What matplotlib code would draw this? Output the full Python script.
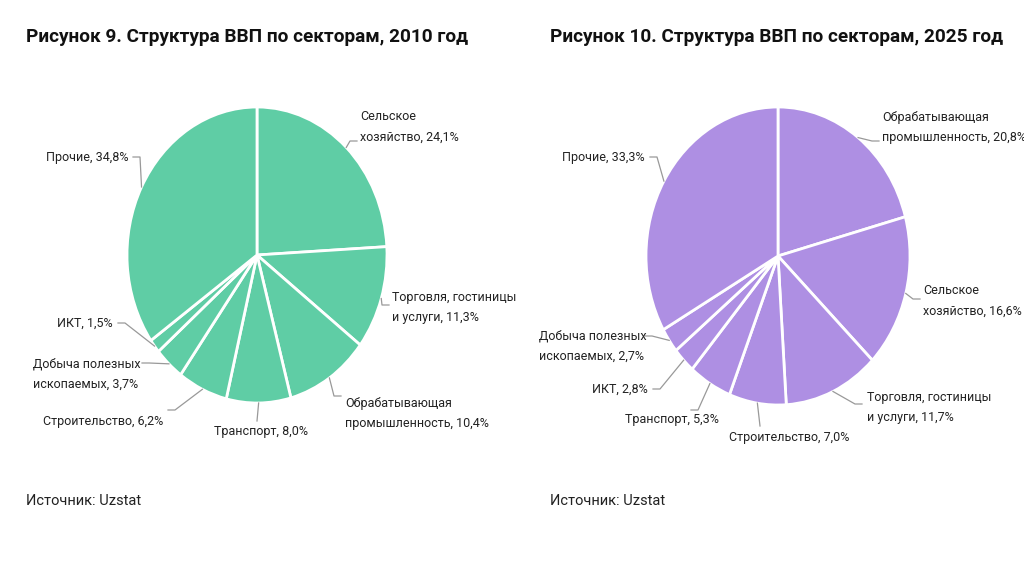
import numpy as np
import matplotlib
matplotlib.use("Agg")
import matplotlib.pyplot as plt

plt.rcParams['font.family'] = ['Roboto', 'DejaVu Sans']

# data, clockwise from 12 o'clock
labels_2010 = ['Сельское\nхозяйство, 24,1%', 'Торговля, гостиницы\nи услуги, 11,3%',
               'Обрабатывающая\nпромышленность, 10,4%', 'Транспорт, 8,0%',
               'Строительство, 6,2%', 'Добыча полезных\nископаемых, 3,7%',
               'ИКТ, 1,5%', 'Прочие, 34,8%']
values_2010 = [24.1, 11.3, 10.4, 8.0, 6.2, 3.7, 1.5, 34.8]

labels_2025 = ['Обрабатывающая\nпромышленность, 20,8%', 'Сельское\nхозяйство, 16,6%',
               'Торговля, гостиницы\nи услуги, 11,7%', 'Строительство, 7,0%',
               'Транспорт, 5,3%', 'ИКТ, 2,8%', 'Добыча полезных\nископаемых, 2,7%',
               'Прочие, 33,3%']
values_2025 = [20.8, 16.6, 11.7, 7.0, 5.3, 2.8, 2.7, 33.3]

title_2010 = 'Рисунок 9. Структура ВВП по секторам, 2010 год'
title_2025 = 'Рисунок 10. Структура ВВП по секторам, 2025 год'
source = 'Источник: Uzstat'

# layout in pixels: text x, text y, ha, leader end x, y
layout_2010 = [(360, 127, 'left', 357, 141), (392, 308, 'left', 389, 305),
               (345, 414, 'left', 341, 396), (261, 432, 'center', 257, 421),
               (163, 421, 'right', 168, 410), (33, 374, 'left', 142, 363),
               (113, 323, 'right', 118, 323), (128, 157, 'right', 133, 157)]
layout_2025 = [(882, 127, 'left', 879, 141), (923, 301, 'left', 920, 299),
               (867, 408, 'left', 862, 404), (789, 438, 'center', 760, 426),
               (719, 420, 'right', 691, 410), (648, 389, 'right', 653, 389),
               (539, 346, 'left', 645, 336), (645, 157, 'right', 650, 157)]

W, H = 1024, 570
fig = plt.figure(figsize=(W / 100, H / 100), dpi=100)
fig.patch.set_facecolor('white')


def draw_pie(values, labels, layout, color, cx, cy, a, b):
    ax = fig.add_axes([(cx - a) / W, 1 - (cy + b) / H, 2 * a / W, 2 * b / H])
    wedges, _ = ax.pie(values, colors=[color] * len(values), startangle=90,
                       counterclock=False,
                       wedgeprops=dict(edgecolor='white', linewidth=2))
    ax.set_aspect('auto')
    ax.set_xlim(-1, 1)
    ax.set_ylim(-1, 1)
    for w, lab, (tx, ty, ha, ex, ey) in zip(wedges, labels, layout):
        mid = np.deg2rad((w.theta1 + w.theta2) / 2)
        x0, y0 = np.cos(mid), np.sin(mid)
        x1, y1 = (ex - cx) / a, (cy - ey) / b
        if ha == 'center':
            xs, ys = [x0, x1], [y0, y1]
        else:
            step = 7 / a if x1 < x0 else -7 / a
            xs, ys = [x0, x1 + step, x1], [y0, y1, y1]
        ax.plot(xs, ys, color='#999999', lw=0.9, clip_on=False)
        ax.text((tx - cx) / a, (cy - ty) / b, lab, ha=ha, va='center',
                multialignment='left', fontsize=9.0, color='#222222',
                linespacing=1.7, clip_on=False)
    return ax


draw_pie(values_2010, labels_2010, layout_2010, '#5FCDA5', 257, 255, 130, 148)
draw_pie(values_2025, labels_2025, layout_2025, '#AE8FE3', 778, 256, 132, 149)

fig.text(26 / W, 1 - 37 / H, title_2010, ha='left', va='center',
         fontsize=13.7, fontweight='bold', color='#111111')
fig.text(550 / W, 1 - 37 / H, title_2025, ha='left', va='center',
         fontsize=13.7, fontweight='bold', color='#111111')
fig.text(26 / W, 1 - 501 / H, source, ha='left', va='center',
         fontsize=10.5, color='#222222')
fig.text(550 / W, 1 - 501 / H, source, ha='left', va='center',
         fontsize=10.5, color='#222222')

fig.savefig('out.png', dpi=100, facecolor='white')
